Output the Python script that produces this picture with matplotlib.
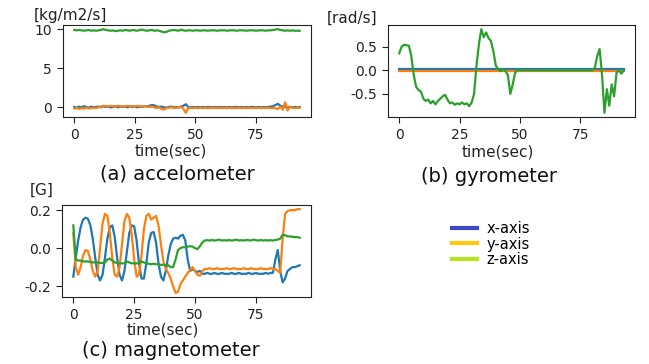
import numpy as np
import matplotlib
matplotlib.use("Agg")
import matplotlib.pyplot as plt
from matplotlib.lines import Line2D

# ---------------- data ----------------
time_sec = list(range(0, 94))

acc_x = [0.05, -0.05, 0.1, 0.0, 0.15, 0.05, -0.05, 0.1, 0.0, 0.05,
         0.1, 0.0, 0.15, 0.05, 0.1, 0.0, 0.05, 0.15, 0.0, 0.1,
         0.05, 0.1, 0.0, 0.15, 0.05, 0.1, 0.0, 0.1, 0.05, 0.15,
         0.1, 0.2, 0.3, 0.25, 0.1, 0.05, 0.1, 0.0, -0.05, 0.05,
         0.1, 0.0, 0.05, -0.05, 0.1, 0.2, 0.4, 0.05, 0.0, 0.05,
         0.0, 0.05, 0.0, 0.05, 0.0, 0.05, 0.05, 0.0, 0.05, 0.0,
         0.05, 0.0, 0.05, 0.0, 0.05, 0.0, 0.05, 0.05, 0.0, 0.05,
         0.0, 0.05, 0.0, 0.05, 0.05, 0.0, 0.05, 0.0, 0.05, 0.0,
         0.05, 0.1, 0.15, 0.3, 0.45, 0.2, 0.1, 0.05, 0.0, 0.05,
         0.0, 0.05, 0.0, 0.05]
acc_y = [-0.15, -0.1, -0.2, -0.1, -0.15, -0.05, -0.15, -0.1, -0.05, -0.1,
         0.0, 0.1, 0.2, 0.15, 0.1, 0.2, 0.15, 0.1, 0.2, 0.15,
         0.1, 0.15, 0.2, 0.1, 0.15, 0.1, 0.2, 0.15, 0.1, 0.15,
         0.1, 0.05, 0.1, 0.0, -0.1, 0.0, -0.2, -0.3, -0.1, -0.05,
         0.0, -0.1, -0.05, 0.0, 0.1, -0.2, -0.7, -0.1, -0.05, -0.1,
         -0.05, -0.1, -0.05, -0.1, -0.05, -0.1, -0.05, -0.1, -0.05, -0.1,
         -0.05, -0.1, -0.05, -0.1, -0.05, -0.1, -0.05, -0.1, -0.05, -0.1,
         -0.05, -0.1, -0.05, -0.1, -0.05, -0.1, -0.05, -0.1, -0.05, -0.1,
         -0.05, -0.1, -0.05, -0.15, -0.2, 0.1, -0.3, 0.65, -0.4, 0.1,
         -0.05, -0.1, -0.05, -0.05]
acc_z = [9.9, 9.85, 9.9, 9.85, 9.8, 9.85, 9.9, 9.8, 9.85, 9.8,
         9.85, 9.9, 10.0, 9.9, 9.85, 9.8, 9.85, 9.75, 9.8, 9.85,
         9.8, 9.9, 9.85, 9.8, 9.9, 9.85, 9.8, 9.9, 9.95, 9.85,
         9.8, 9.85, 9.9, 9.8, 9.85, 9.8, 9.7, 9.6, 9.65, 9.8,
         9.85, 9.9, 9.85, 9.8, 9.95, 9.85, 9.8, 9.85, 9.85, 9.8,
         9.85, 9.85, 9.8, 9.85, 9.85, 9.8, 9.85, 9.85, 9.85, 9.8,
         9.85, 9.85, 9.85, 9.8, 9.85, 9.85, 9.85, 9.8, 9.85, 9.85,
         9.85, 9.8, 9.85, 9.85, 9.85, 9.8, 9.85, 9.85, 9.85, 9.8,
         9.85, 9.85, 9.9, 9.95, 10.0, 9.9, 9.85, 9.8, 9.85, 9.8,
         9.85, 9.8, 9.8, 9.8]

gyro_x = [0.02] * 94
gyro_y = [-0.025] * 94
gyro_z = [0.36, 0.5, 0.54, 0.53, 0.52, 0.3, -0.1, -0.35, -0.42, -0.45,
          -0.6, -0.65, -0.62, -0.7, -0.65, -0.72, -0.65, -0.6, -0.55, -0.52,
          -0.62, -0.7, -0.68, -0.73, -0.7, -0.72, -0.68, -0.72, -0.7, -0.76,
          -0.68, -0.5, 0.1, 0.55, 0.87, 0.7, 0.8, 0.68, 0.62, 0.4,
          0.1, 0.02, -0.02, 0.03, -0.02, -0.1, -0.5, -0.3, -0.05, 0.0,
          0.0, 0.0, 0.0, 0.0, 0.0, 0.0, 0.0, 0.0, 0.0, 0.0,
          0.0, 0.0, 0.0, 0.0, 0.0, 0.0, 0.0, 0.0, 0.0, 0.0,
          0.0, 0.0, 0.0, 0.0, 0.0, 0.0, 0.0, 0.0, 0.0, 0.0,
          0.0, 0.05, 0.3, 0.45, -0.1, -0.9, -0.4, -0.75, -0.3, -0.55,
          -0.05, 0.0, -0.07, 0.0]

mag_x = [-0.15, -0.05, 0.04, 0.11, 0.15, 0.16, 0.155, 0.12, 0.05, -0.05,
         -0.14, -0.17, -0.14, -0.05, 0.05, 0.11, 0.12, 0.06, -0.05, -0.14,
         -0.17, -0.12, -0.02, 0.08, 0.12, 0.115, 0.04, -0.08, -0.16, -0.16,
         -0.08, 0.03, 0.08, 0.085, 0.03, -0.08, -0.15, -0.17, -0.12, -0.04,
         0.02, 0.05, 0.055, 0.05, 0.065, 0.07, 0.04, -0.06, -0.12, -0.11,
         -0.12, -0.125, -0.12, -0.135, -0.135, -0.13, -0.135, -0.135, -0.13, -0.135,
         -0.135, -0.13, -0.135, -0.135, -0.135, -0.13, -0.135, -0.135, -0.13, -0.135,
         -0.135, -0.135, -0.13, -0.135, -0.135, -0.13, -0.135, -0.135, -0.135, -0.13,
         -0.135, -0.13, -0.13, -0.06, -0.01, -0.12, -0.18, -0.16, -0.12, -0.11,
         -0.1, -0.1, -0.095, -0.09]
mag_y = [0.08, -0.1, -0.14, -0.1, -0.04, -0.01, -0.015, -0.06, -0.12, -0.15,
         -0.12, 0.0, 0.13, 0.18, 0.17, 0.08, -0.05, -0.14, -0.15, -0.1,
         0.02, 0.14, 0.18, 0.16, 0.07, -0.06, -0.15, -0.14, -0.04, 0.1,
         0.17, 0.18, 0.15, 0.16, 0.17, 0.12, 0.02, -0.07, -0.11, -0.13,
         -0.16, -0.2, -0.235, -0.23, -0.19, -0.17, -0.15, -0.13, -0.115, -0.1,
         -0.12, -0.14, -0.145, -0.12, -0.11, -0.11, -0.105, -0.11, -0.11, -0.105,
         -0.11, -0.11, -0.11, -0.105, -0.11, -0.11, -0.105, -0.11, -0.11, -0.11,
         -0.105, -0.11, -0.11, -0.105, -0.11, -0.11, -0.11, -0.105, -0.11, -0.11,
         -0.11, -0.105, -0.11, -0.11, -0.12, -0.13, 0.05, 0.18, 0.195, 0.2,
         0.2, 0.2, 0.205, 0.205]
mag_z = [0.12, -0.06, -0.065, -0.065, -0.07, -0.07, -0.07, -0.072, -0.075, -0.075,
         -0.075, -0.078, -0.078, -0.075, -0.06, -0.055, -0.065, -0.075, -0.078, -0.08,
         -0.08, -0.08, -0.07, -0.075, -0.08, -0.08, -0.08, -0.08, -0.07, -0.075,
         -0.08, -0.082, -0.085, -0.082, -0.085, -0.085, -0.088, -0.088, -0.09, -0.09,
         -0.1, -0.1, -0.06, -0.01, 0.0, 0.005, 0.005, 0.008, 0.01, 0.008,
         0.0, -0.005, 0.01, 0.03, 0.04, 0.042, 0.04, 0.043, 0.04, 0.042,
         0.045, 0.04, 0.042, 0.04, 0.043, 0.04, 0.042, 0.045, 0.04, 0.042,
         0.04, 0.043, 0.042, 0.04, 0.045, 0.042, 0.04, 0.043, 0.04, 0.042,
         0.04, 0.042, 0.04, 0.043, 0.045, 0.05, 0.07, 0.068, 0.062, 0.062,
         0.06, 0.058, 0.058, 0.055]

legend_labels = ["x-axis", "y-axis", "z-axis"]
legend_colors = ["#3F48CC", "#FFC90E", "#B5E61D"]

unit_labels = ["[kg/m2/s]", "[rad/s]", "[G]"]
captions = ["(a) accelometer", "(b) gyrometer", "(c) magnetometer"]

# ---------------- figure ----------------
W, H = 649, 364
fig = plt.figure(figsize=(W / 100, H / 100), dpi=100)
TF = ["DejaVu Sans"]
C = ["#1f77b4", "#ff7f0e", "#2ca02c"]


def px_axes(x0, y0, x1, y1):
    return fig.add_axes([x0 / W, 1 - y1 / H, (x1 - x0) / W, (y1 - y0) / H])


def fx(x):
    return x / W


def fy(y):
    return 1 - y / H


panels = [
    (px_axes(63, 25, 311, 117), (acc_x, acc_y, acc_z), [0, 5, 10], None),
    (px_axes(388, 25, 635, 117), (gyro_x, gyro_y, gyro_z), [-0.5, 0.0, 0.5], "%.1f"),
    (px_axes(62, 205, 311, 297), (mag_x, mag_y, mag_z), [-0.2, 0.0, 0.2], "%.1f"),
]

for ax, series, yt, fmt in panels:
    for s, c in zip(series, C):
        ax.plot(time_sec, s, color=c, lw=1.6)
    ax.set_xticks([0, 25, 50, 75])
    ax.set_yticks(yt)
    if fmt:
        ax.yaxis.set_major_formatter(matplotlib.ticker.FormatStrFormatter(fmt))
    ax.tick_params(labelsize=10, colors="#222222", length=4.5, pad=3.5)
    for sp in ax.spines.values():
        sp.set_color("#222222")

# unit labels
fig.text(fx(34), fy(20), unit_labels[0], family=TF, fontsize=11, va="baseline", ha="left",
         color="#222222")
fig.text(fx(327), fy(23), unit_labels[1], family=TF, fontsize=11, va="baseline", ha="left",
         color="#222222")
fig.text(fx(30), fy(195), unit_labels[2], family=TF, fontsize=11, va="baseline", ha="left",
         color="#222222")

# x labels
for cx, cy in [(171, 151), (498, 152), (163, 330)]:
    fig.text(fx(cx), fy(cy), "time(sec)", family=TF, fontsize=11, ha="center", va="center",
             color="#222222")

# captions
for cap, (cx, cy) in zip(captions, [(177, 174), (489, 176), (171, 350)]):
    fig.text(fx(cx), fy(cy), cap, family=TF, fontsize=14, ha="center", va="center",
             color="#111111")

# legend
handles = [Line2D([], [], color=c, lw=3) for c in legend_colors]
leg = fig.legend(handles, legend_labels, loc="upper left",
                 bbox_to_anchor=(fx(446), fy(215)), frameon=False,
                 prop={"family": TF, "size": 10.5}, handlelength=1.75,
                 handletextpad=0.65, labelspacing=0.05, borderaxespad=0)

fig.savefig("out.png", dpi=100)
